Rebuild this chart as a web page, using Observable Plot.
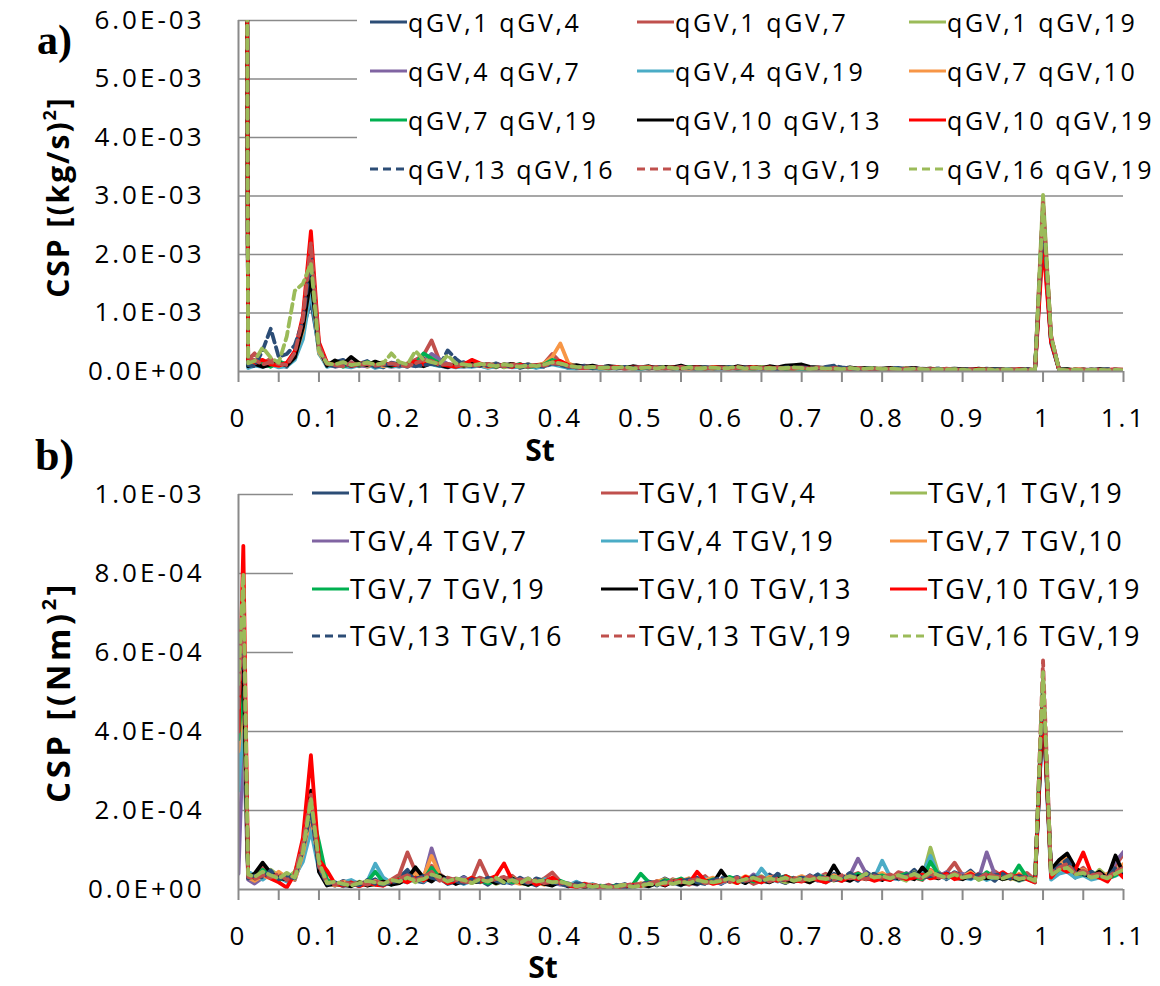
<!DOCTYPE html>
<html><head><meta charset="utf-8">
<script src="https://cdn.jsdelivr.net/npm/d3@7"></script>
<script src="https://cdn.jsdelivr.net/npm/@observablehq/plot@0.6"></script>
<style>
body{margin:0;background:#fff;}
#wrap{position:relative;width:1160px;height:986px;overflow:hidden;font-family:"Open Sans",sans-serif;color:#000;}
.plot{position:absolute;left:0;}
.legbox{position:absolute;background:#fff;}
.item{position:absolute;display:flex;align-items:center;white-space:nowrap;height:30px;}
.item svg{display:block;flex:none;}
.ytitle{position:absolute;font-weight:700;white-space:nowrap;transform:translate(-50%,-50%) rotate(-90deg);}
.xtitle{position:absolute;font-weight:700;white-space:nowrap;line-height:0.8;transform:translate(-50%,-50%);}
.tag{position:absolute;font-family:"Liberation Serif","Times New Roman",serif;font-weight:700;line-height:1;}
</style></head><body><div id="wrap"></div>
<script>
// Strouhal number grid
const St = [0,0.006,0.012,0.02,0.03,0.04,0.05,0.06,0.07,0.08,0.09,
0.1,0.11,0.12,0.13,0.14,0.15,0.16,0.17,0.18,0.19,
0.2,0.21,0.22,0.23,0.24,0.25,0.26,0.27,0.28,0.29,
0.3,0.31,0.32,0.33,0.34,0.35,0.36,0.37,0.38,0.39,
0.4,0.41,0.42,0.43,0.44,0.45,0.46,0.47,0.48,0.49,
0.5,0.51,0.52,0.53,0.54,0.55,0.56,0.57,0.58,0.59,
0.6,0.61,0.62,0.63,0.64,0.65,0.66,0.67,0.68,0.69,
0.7,0.71,0.72,0.73,0.74,0.75,0.76,0.77,0.78,0.79,
0.8,0.81,0.82,0.83,0.84,0.85,0.86,0.87,0.88,0.89,
0.9,0.91,0.92,0.93,0.94,0.95,0.96,0.97,0.98,0.99,
1,1.01,1.02,1.03,1.04,1.05,1.06,1.07,1.08,1.09,1.1];

// Tick values and labels
const xTicks = [0,0.1,0.2,0.3,0.4,0.5,0.6,0.7,0.8,0.9,1,1.1];
const xTickLabels = ["0","0.1","0.2","0.3","0.4","0.5","0.6","0.7","0.8","0.9","1","1.1"];
const xMinorTicks = [0,0.05,0.1,0.15,0.2,0.25,0.3,0.35,0.4,0.45,0.5,0.55,0.6,0.65,0.7,0.75,0.8,0.85,0.9,0.95,1,1.05,1.1];
const yTicksA = [0,0.001,0.002,0.003,0.004,0.005,0.006];
const yLabelsA = ["0.0E+00","1.0E-03","2.0E-03","3.0E-03","4.0E-03","5.0E-03","6.0E-03"];
const yTicksB = [0,0.0002,0.0004,0.0006,0.0008,0.001];
const yLabelsB = ["0.0E+00","2.0E-04","4.0E-04","6.0E-04","8.0E-04","1.0E-03"];

// Series names
const namesA = ["qGV,1 qGV,4","qGV,1 qGV,7","qGV,1 qGV,19","qGV,4 qGV,7","qGV,4 qGV,19","qGV,7 qGV,10","qGV,7 qGV,19","qGV,10 qGV,13","qGV,10 qGV,19","qGV,13 qGV,16","qGV,13 qGV,19","qGV,16 qGV,19"];
const namesB = ["TGV,1 TGV,7","TGV,1 TGV,4","TGV,1 TGV,19","TGV,4 TGV,7","TGV,4 TGV,19","TGV,7 TGV,10","TGV,7 TGV,19","TGV,10 TGV,13","TGV,10 TGV,19","TGV,13 TGV,16","TGV,13 TGV,19","TGV,16 TGV,19"];
const colors = ["#2C4D76","#C0504D","#9BBB59","#8064A2","#4BACC6","#F79646","#00B050","#000000","#FF0000","#2C4D76","#C0504D","#9BBB59"];
const dashed = [false,false,false,false,false,false,false,false,false,true,true,true];

// Panel a values, in units of 1e-5 (kg/s)^2
const qa1 = [3000,3000,14,
16,10,20,12,8,34,72,122,
38,9,16,20,8,13,18,9,7,15,
12,8,16,22,13,10,7,12,16,9,
11,8,14,9,12,6,10,8,9,15,
12,6,8,10,5,7,9,6,8,5,
6,8,5,7,6,9,5,4,7,6,
5,7,4,6,8,5,6,4,7,9,
8,5,6,4,7,5,6,4,5,3,
4,5,3,4,6,3,4,5,3,4,
3,4,3,5,3,2,4,3,2,3,
255,52,4,3,2,3,2,3,2,3,2];
const qa2 = [3000,3000,20,
31,14,22,9,12,28,88,205,
45,14,10,12,16,9,14,12,10,12,
9,14,20,28,53,18,9,11,14,10,
12,9,7,13,8,10,12,9,14,30,
16,8,6,9,7,5,8,7,5,6,
7,5,8,6,5,7,6,8,5,6,
8,6,5,7,4,6,8,5,6,5,
6,4,5,7,4,5,3,6,4,5,
3,5,4,3,5,4,3,2,4,3,
2,3,4,2,3,4,2,3,3,2,
270,60,3,2,3,4,2,3,2,4,3];
const qa3 = [3000,3000,10,
12,18,9,14,10,22,60,172,
30,12,9,15,11,14,8,12,16,10,
14,10,12,19,24,15,12,8,10,13,
9,11,13,7,10,9,12,8,10,13,
14,9,7,6,8,6,5,7,6,5,
6,7,5,8,4,6,7,5,6,4,
7,5,6,4,5,7,5,6,4,6,
5,6,4,5,3,6,4,5,6,4,
5,3,4,6,3,4,5,3,4,3,
2,4,3,2,4,3,2,4,3,2,
302,58,3,4,2,3,2,3,3,2,3];
const qa4 = [3000,3000,8,
18,11,9,16,13,25,65,155,
36,13,8,11,14,10,9,13,11,8,
10,12,9,17,30,21,13,10,8,12,
10,7,12,10,8,11,9,7,12,18,
12,7,9,6,8,5,7,6,8,6,
5,7,6,5,8,6,5,7,4,6,
5,6,8,5,6,4,7,5,6,7,
5,4,6,5,4,6,3,5,4,5,
4,3,5,4,3,5,4,3,4,3,
3,2,4,3,2,3,4,2,3,3,
245,50,3,2,3,2,4,3,2,3,2];
const qa5 = [3000,3000,6,
10,8,12,7,9,20,55,140,
32,8,12,9,7,11,13,6,9,11,
8,13,10,14,12,9,11,7,9,8,
10,6,9,11,7,8,10,6,9,12,
9,6,5,7,6,4,6,5,7,5,
4,6,5,7,5,4,6,5,4,6,
5,4,6,5,7,4,5,6,4,5,
4,5,3,4,5,3,4,6,3,4,
3,4,5,3,4,3,2,4,3,2,
3,2,3,4,2,3,2,3,2,3,
235,48,2,3,2,3,2,2,3,2,3];
const qa6 = [3000,3000,12,
14,9,13,10,14,26,70,165,
34,11,13,10,12,15,10,14,9,12,
13,9,14,18,20,12,10,13,9,11,
12,8,11,9,13,10,8,11,14,25,
48,14,8,7,9,6,8,6,7,5,
7,5,6,8,5,7,4,6,5,7,
6,5,7,4,6,8,5,6,5,4,
7,5,4,6,5,4,5,3,6,4,
4,6,3,5,4,3,5,4,3,4,
3,4,2,3,4,2,3,2,4,3,
260,55,3,2,4,3,2,3,2,3,2];
const qa7 = [3000,3000,16,
12,15,8,18,11,30,80,190,
42,12,15,8,13,10,16,11,13,9,
15,11,13,31,22,14,9,12,10,14,
11,13,8,12,9,13,7,10,12,20,
15,10,7,8,6,8,5,7,6,7,
5,7,6,5,7,5,8,6,5,7,
6,7,5,6,4,7,5,6,4,5,
5,4,6,5,4,5,3,5,4,6,
3,5,4,3,4,3,4,3,2,3,
3,2,4,3,2,3,3,2,3,2,
280,56,3,2,3,2,3,2,3,2,3];
const qa8 = [3000,3000,9,
13,8,12,15,10,24,75,160,
40,10,19,12,25,14,11,17,12,10,
13,10,12,9,14,11,8,12,10,13,
10,12,9,11,13,8,10,9,11,16,
13,9,11,8,10,7,9,8,6,9,
7,9,6,8,7,10,6,8,7,6,
8,6,9,7,8,6,9,7,10,11,
12,8,7,6,8,5,7,5,6,4,
5,6,4,5,6,4,5,3,4,5,
4,3,5,3,4,3,2,3,4,2,
250,52,3,4,2,3,2,4,3,2,3];
const qa9 = [3000,3000,18,
14,20,12,10,15,35,95,240,
50,15,11,14,9,12,15,10,14,12,
10,13,17,12,15,13,10,8,12,20,
14,9,12,10,8,12,9,11,10,15,
18,11,7,6,8,7,6,8,5,7,
6,8,5,6,7,5,6,7,5,8,
6,5,7,6,8,5,7,5,6,5,
7,5,6,4,5,6,4,5,3,5,
4,5,3,4,5,3,4,3,4,3,
2,3,4,3,2,3,2,4,3,2,
220,50,3,2,3,2,3,2,3,3,2];
const qa10 = [3000,3000,11,
9,36,73,25,30,45,85,200,
40,12,9,13,10,12,14,8,11,13,
10,12,9,11,13,10,36,22,11,9,
12,10,13,8,11,9,12,10,8,14,
11,8,7,9,6,8,7,5,8,6,
7,5,8,6,5,7,6,5,7,5,
6,8,5,7,6,5,6,4,7,6,
7,6,5,8,10,7,5,4,6,5,
4,5,6,4,5,3,4,5,3,4,
3,4,3,2,4,3,2,3,4,3,
265,58,3,2,3,2,3,2,4,3,2];
const qa11 = [3000,3000,22,
20,12,16,13,11,32,90,220,
44,13,11,9,14,11,13,10,12,14,
11,9,14,20,18,11,13,10,12,11,
10,13,11,9,12,10,8,12,10,14,
13,9,8,6,7,8,6,7,5,6,
8,6,7,5,6,8,5,7,6,5,
7,5,6,7,5,6,4,7,5,6,
6,5,7,4,6,4,5,6,4,5,
5,4,3,5,4,3,4,3,5,3,
3,4,2,3,3,2,4,3,2,3,
290,62,3,2,3,3,2,3,2,3,3];
const qa12 = [3000,3000,14,
18,41,24,15,60,138,150,185,
36,14,12,16,11,13,15,12,14,31,
16,12,35,20,16,13,28,14,12,10,
13,11,9,12,10,8,11,9,12,16,
14,10,8,7,8,6,7,6,8,5,
6,7,5,8,6,5,7,5,6,7,
5,6,8,5,7,5,6,5,6,7,
6,4,6,5,5,4,6,4,5,6,
4,5,4,3,5,4,3,4,3,4,
3,2,3,4,2,3,3,2,4,2,
285,60,3,2,3,2,3,3,2,3,2];

// Panel b values, in units of 1e-6 (Nm)^2
const qb1 = [550,620,40,
25,45,30,38,22,40,95,180,
60,15,10,22,14,9,18,26,12,20,
30,50,22,18,35,28,14,20,32,18,
24,12,28,20,15,30,18,10,22,26,
14,8,18,12,6,10,4,8,14,5,
12,20,16,28,18,10,24,30,15,22,
14,26,32,20,28,18,38,24,16,30,
22,36,25,18,40,28,34,22,45,30,
38,24,40,32,50,28,36,44,26,40,
32,48,28,36,22,42,30,26,38,20,
520,45,70,55,30,48,28,36,22,50,60];
const qb2 = [480,650,35,
30,55,40,25,35,30,110,220,
70,20,14,10,18,12,22,15,10,25,
38,94,45,30,60,35,20,28,16,24,
73,30,20,25,35,18,22,15,28,43,
20,12,8,15,10,6,12,5,10,8,
15,10,22,14,26,18,12,20,34,16,
20,30,18,26,14,22,30,36,20,28,
24,18,30,40,26,22,34,42,28,36,
30,26,44,38,30,24,50,36,42,68,
36,28,40,34,46,32,38,30,42,24,
500,38,60,70,40,55,35,42,30,60,90];
const qb3 = [420,720,30,
20,40,50,35,28,45,100,200,
80,18,12,16,10,20,14,12,28,18,
24,30,18,35,40,24,30,16,20,28,
18,26,14,22,30,16,12,24,18,20,
15,10,14,8,12,5,9,4,10,12,
8,14,20,12,24,16,28,14,20,26,
18,22,16,28,24,34,20,26,18,24,
30,20,26,34,22,30,24,36,28,40,
26,34,30,22,44,28,106,40,30,36,
28,42,24,32,36,26,30,22,28,18,
540,30,55,60,35,42,28,50,32,40,55];
const qb4 = [40,400,25,
15,30,45,28,40,24,85,170,
55,12,16,8,14,10,20,16,22,14,
20,28,36,26,104,40,22,18,30,20,
26,18,24,30,16,22,28,14,20,18,
12,16,6,10,8,4,7,10,5,12,
10,16,12,20,14,22,18,12,26,20,
16,24,30,20,38,26,30,22,28,20,
26,34,22,28,30,24,36,78,40,28,
36,30,26,42,34,28,38,30,44,32,
40,34,28,94,38,30,36,26,34,22,
480,40,65,50,38,45,30,40,35,70,95];
const qb5 = [250,450,45,
35,25,40,30,20,35,70,150,
50,20,12,18,24,14,20,65,30,16,
22,18,28,20,34,26,18,24,14,22,
30,20,26,16,24,20,14,18,26,22,
16,10,20,8,14,6,10,5,8,10,
14,8,18,12,22,16,20,14,28,22,
18,26,20,30,22,53,28,20,34,24,
30,22,38,28,24,34,26,30,36,28,
73,32,26,36,28,40,85,34,28,38,
30,26,36,24,32,28,38,22,30,18,
460,25,40,45,30,36,25,30,28,35,45];
const qb6 = [350,500,30,
22,35,28,45,30,25,90,190,
65,16,10,20,12,16,10,22,14,24,
18,26,40,32,85,38,24,16,22,30,
22,28,18,26,20,14,24,18,12,22,
18,14,10,6,12,8,5,9,12,8,
16,12,20,26,16,22,28,18,24,30,
20,28,22,34,26,20,32,24,30,26,
34,24,30,22,36,28,40,30,26,34,
42,30,36,28,40,32,48,36,30,40,
32,44,28,38,30,36,26,40,28,22,
500,40,60,85,45,50,38,30,40,45,65];
const qb7 = [380,550,40,
28,50,35,22,38,32,120,210,
120,25,14,10,16,12,20,45,18,12,
28,22,30,24,55,30,18,26,20,28,
24,16,22,28,18,24,12,20,16,14,
22,14,8,12,6,9,5,11,7,12,
40,18,14,24,20,28,16,22,18,26,
20,32,24,28,20,30,22,28,34,26,
28,22,36,26,32,24,30,40,28,32,
36,28,34,40,30,26,70,38,32,36,
30,38,26,44,30,34,28,61,30,26,
510,35,50,60,40,38,45,32,28,36,50];
const qb8 = [450,600,30,
40,68,42,30,25,35,105,250,
45,10,16,12,8,18,10,14,20,12,
16,28,56,30,20,36,26,14,22,18,
20,26,16,22,28,18,12,20,14,10,
20,8,12,6,10,4,8,3,6,10,
12,8,16,10,20,12,18,14,22,16,
48,20,26,16,30,22,18,28,24,20,
26,18,30,24,61,28,22,34,26,30,
24,36,28,32,26,56,34,28,40,30,
26,36,30,28,34,26,32,24,30,20,
470,50,75,91,55,40,32,45,28,86,40];
const qb9 = [400,870,35,
30,40,28,18,5,40,130,340,
75,48,14,10,18,8,16,12,10,20,
26,18,30,22,40,28,16,22,18,30,
20,26,34,66,24,18,26,12,20,30,
16,10,6,14,8,5,10,4,8,12,
10,14,18,12,20,24,16,45,22,14,
20,26,16,32,24,18,28,22,34,24,
20,30,24,18,28,22,32,26,30,22,
28,24,34,26,30,38,28,32,40,26,
30,40,28,36,32,44,30,36,26,18,
490,30,55,45,50,94,40,30,20,50,30];
const qb10 = [500,700,28,
35,30,48,26,34,28,100,200,
55,14,18,12,16,10,24,14,12,18,
22,40,26,34,30,24,28,20,16,26,
18,30,22,16,26,20,16,28,22,18,
14,10,16,12,5,10,7,12,4,8,
14,18,10,22,16,20,26,18,14,24,
30,22,28,18,34,26,20,40,28,24,
30,26,38,28,22,30,42,28,34,40,
28,32,26,36,42,30,34,40,30,44,
34,28,38,30,36,40,26,34,30,22,
530,40,60,75,42,36,45,35,30,55,45];
const qb11 = [460,750,32,
26,36,30,40,24,38,115,240,
60,18,12,20,14,18,12,20,16,22,
28,36,24,30,45,22,30,24,20,18,
30,22,26,32,20,26,18,24,16,20,
18,12,10,8,14,6,9,5,10,14,
12,16,20,14,24,18,22,26,16,20,
24,18,30,22,26,32,20,28,24,30,
22,34,26,30,24,36,28,32,26,34,
30,38,28,32,36,28,40,30,34,42,
32,36,28,40,34,30,38,28,32,20,
580,42,55,65,40,48,36,40,30,45,55];
const qb12 = [520,800,38,
32,45,36,28,42,30,95,230,
70,16,20,14,10,16,22,18,14,24,
20,30,22,26,38,32,20,28,24,16,
26,20,30,18,24,16,28,20,24,18,
20,14,8,12,6,10,5,8,12,6,
10,14,12,18,14,20,16,24,20,18,
22,28,20,26,30,22,28,24,30,22,
28,24,30,26,32,26,34,28,40,30,
34,28,36,30,40,30,44,36,30,38,
30,34,26,32,30,28,36,26,30,22,
550,36,50,55,38,42,30,35,28,40,50];

const valuesA = [qa1,qa2,qa3,qa4,qa5,qa6,qa7,qa8,qa9,qa10,qa11,qa12];
const valuesB = [qb1,qb2,qb3,qb4,qb5,qb6,qb7,qb8,qb9,qb10,qb11,qb12];
const unitA = 1e-5, unitB = 1e-6;

const GRID = "#8a8a8a";
const wrap = document.getElementById("wrap");

function panel(values, unit, names, yTicks, yLabels, opts) {
  const lines = values.map((vals, k) => {
    const rows = vals.map((v, i) => ({St: St[i], v: v * unit, series: names[k]}));
    return Plot.line(rows, {x: "St", y: "v", stroke: colors[k], strokeWidth: 3.8,
      strokeDasharray: dashed[k] ? "9,5" : null, strokeLinejoin: "round", clip: true});
  });
  return Plot.plot({
    width: 1160, height: opts.height,
    marginLeft: 238, marginRight: 37, marginTop: opts.top, marginBottom: opts.bottom,
    x: {domain: [0, 1.1], label: null},
    y: {domain: [0, yTicks[yTicks.length - 1]], label: null},
    style: {fontFamily: "'Open Sans', sans-serif", fontSize: "26px", color: "#000", background: "transparent", overflow: "visible", letterSpacing: "3px"},
    marks: [
      Plot.ruleY(yTicks.slice(1), {stroke: GRID, strokeWidth: 1.6}),
      ...lines,
      Plot.ruleX([0], {stroke: GRID, strokeWidth: 2}),
      Plot.ruleY([0], {stroke: GRID, strokeWidth: 2}),
      Plot.axisX({ticks: xMinorTicks, tickSize: 11, stroke: GRID, strokeWidth: 2, tickFormat: () => null, label: null}),
      Plot.axisX({ticks: xTicks, tickSize: 0, tickPadding: opts.xpad, fontSize: 26, label: null,
        tickFormat: d => xTickLabels[xTicks.indexOf(d)]}),
      Plot.axisY({ticks: yTicks, tickSize: 0, tickPadding: 34, fontSize: 26, label: null,
        tickFormat: d => yLabels[yTicks.indexOf(d)]})
    ]
  });
}

const pa = panel(valuesA, unitA, namesA, yTicksA, yLabelsA, {height: 455, top: 20, bottom: 84, xpad: 37});
const pb = panel(valuesB, unitB, namesB, yTicksB, yLabelsB, {height: 531, top: 39, bottom: 97, xpad: 37});
const da = document.createElement("div"); da.className = "plot"; da.style.top = "0px"; da.appendChild(pa); wrap.appendChild(da);
const db = document.createElement("div"); db.className = "plot"; db.style.top = "455px"; db.appendChild(pb); wrap.appendChild(db);

function legend(names, box, cols, rows, fontSize, spacing) {
  const b = document.createElement("div");
  b.className = "legbox";
  Object.assign(b.style, {left: box[0] + "px", top: box[1] + "px", width: box[2] + "px", height: box[3] + "px"});
  wrap.appendChild(b);
  names.forEach((name, k) => {
    const r = Math.floor(k / 3), c = k % 3;
    const it = document.createElement("div");
    it.className = "item";
    it.style.left = cols[c] + "px";
    it.style.top = (rows[r] - 15) + "px";
    it.innerHTML = `<svg width="38" height="10"><line x1="0" y1="5" x2="37" y2="5" stroke="${colors[k]}" stroke-width="3" ${dashed[k] ? 'stroke-dasharray="8,5"' : ''}/></svg>` +
      `<span style="font-size:${fontSize}px;letter-spacing:${spacing}px;line-height:30px;">${name}</span>`;
    wrap.appendChild(it);
  });
}
legend(namesA, [357, 0, 767, 188], [370, 637, 909], [22, 71, 120, 169], 25, 2.6);
legend(namesB, [293, 468, 831, 188], [312, 601, 890], [493, 541, 589, 636], 27, 2.3);

function addText(cls, txt, x, y, size, extra) {
  const d = document.createElement("div");
  d.className = cls;
  d.innerHTML = txt;
  d.style.left = x + "px"; d.style.top = y + "px"; d.style.fontSize = size + "px";
  if (extra) Object.assign(d.style, extra);
  wrap.appendChild(d);
}
addText("ytitle", "CSP [(kg/s)<sup style='font-size:0.6em;vertical-align:0.7em;line-height:0'>2</sup>]", 57, 197, 30, {letterSpacing: "2px"});
addText("ytitle", "CSP [(Nm)<sup style='font-size:0.6em;vertical-align:0.7em;line-height:0'>2</sup>]", 57, 692, 33, {letterSpacing: "3.5px"});
addText("xtitle", "St", 540, 450, 30);
addText("xtitle", "St", 543, 967, 30);
addText("tag", "a)", 37, 19, 42);
addText("tag", "b)", 35, 434, 44);
</script></body></html>
